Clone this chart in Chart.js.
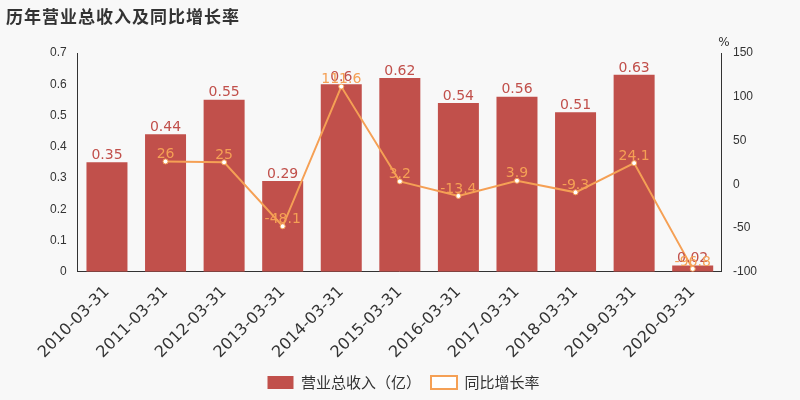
<!DOCTYPE html>
<html><head><meta charset="utf-8">
<script src="https://cdn.jsdelivr.net/npm/chart.js@4"></script>
<style>body{margin:0;background:#f8f8f8;}#wrap{width:800px;height:400px;position:relative;}
#title{position:absolute;left:6px;top:3px;font:bold 17px "Noto Sans CJK SC";color:#333;letter-spacing:1px}</style>
</head><body><div id="wrap"><div id="title">历年营业总收入及同比增长率</div><canvas id="c" width="800" height="400"></canvas></div>
<script>
const labels = ['2010-03-31','2011-03-31','2012-03-31','2013-03-31','2014-03-31','2015-03-31','2016-03-31','2017-03-31','2018-03-31','2019-03-31','2020-03-31'];
const revenue = [0.35,0.44,0.55,0.29,0.6,0.62,0.54,0.56,0.51,0.63,0.02];
const yoy = [null,26,25,-48.1,111.6,3.2,-13.4,3.9,-9.3,24.1,-96.8];

const labelPlugin = {
  id: 'vals',
  afterDatasetsDraw(chart) {
    const ctx = chart.ctx;
    ctx.save();
    ctx.font = '14px "DejaVu Sans"';
    ctx.textAlign = 'center';
    chart.getDatasetMeta(0).data.forEach((b, i) => {
      ctx.fillStyle = '#c1504b';
      ctx.fillText(String(revenue[i]), b.x, b.y - 7);
    });
    chart.getDatasetMeta(1).data.forEach((p, i) => {
      if (yoy[i] === null) return;
      ctx.fillStyle = '#f5a055';
      ctx.fillText(String(yoy[i]), p.x, p.y - 7);
    });
    ctx.fillStyle = '#333';
    ctx.font = '12px "DejaVu Sans"';
    ctx.fillText('%', chart.scales.y1.left + 2, 43);
    ctx.restore();
  }
};

new Chart(document.getElementById('c'), {
  data: {
    labels: labels,
    datasets: [
      { type: 'bar', label: '营业总收入（亿）', data: revenue, backgroundColor: '#c1504b', yAxisID: 'y', barPercentage: 0.7, categoryPercentage: 1, order: 2 },
      { type: 'line', label: '同比增长率', data: yoy, borderColor: '#f5a055', backgroundColor: '#fff', borderWidth: 2, pointRadius: 2.5, pointBorderWidth: 1, pointBackgroundColor: '#fff', yAxisID: 'y1', tension: 0, order: 1 }
    ]
  },
  options: {
    responsive: false, animation: false,
    layout: { padding: { top: 53, left: 47, right: 40, bottom: 0 } },
    plugins: {
      legend: { position: 'bottom', labels: { sort: (a, b) => a.datasetIndex - b.datasetIndex, font: { size: 15, family: 'Noto Sans CJK SC' }, color: '#333', boxWidth: 26, boxHeight: 13 } },
      tooltip: { enabled: false }
    },
    scales: {
      x: { grid: { display: false }, border: { color: '#333' }, ticks: { color: '#333', maxRotation: 45, minRotation: 45, font: { size: 16, family: 'DejaVu Sans' } } },
      y: { min: 0, max: 0.7, ticks: { stepSize: 0.1, color: '#333', font: { size: 12 } }, grid: { display: false }, border: { color: '#333' } },
      y1: { position: 'right', min: -100, max: 150, ticks: { stepSize: 50, color: '#333', font: { size: 12 } }, grid: { display: false }, border: { color: '#333' } }
    }
  },
  plugins: [labelPlugin]
});
</script></body></html>
